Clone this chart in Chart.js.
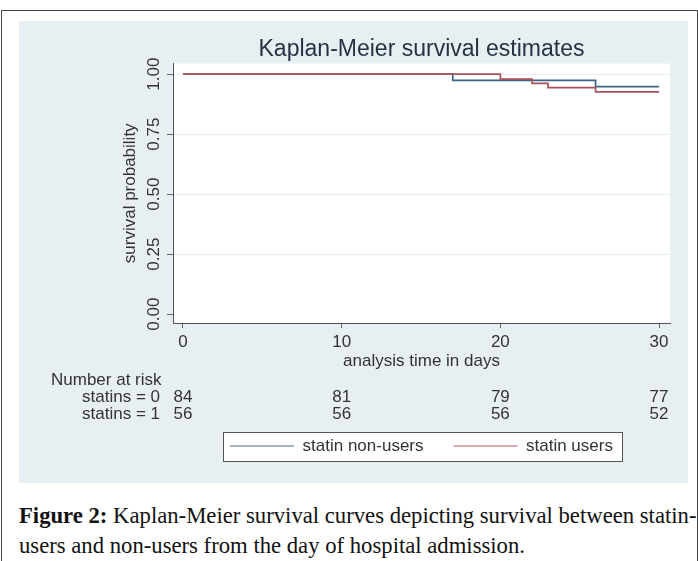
<!DOCTYPE html>
<html>
<head>
<meta charset="utf-8">
<script src="https://cdn.jsdelivr.net/npm/chart.js@4.4.1/dist/chart.umd.min.js"></script>
<style>
  html, body { margin: 0; padding: 0; background: #fff; width: 698px; height: 561px; overflow: hidden; }
  #frame { position: absolute; left: 1px; top: 10px; width: 695px; height: 600px; border: 1px solid #444; }
  #panel { position: absolute; left: 19px; top: 21px; width: 669px; height: 462px; background: #e8eff3; }
  #panel canvas { position: absolute; left: 0; top: 0; }
  #caption { position: absolute; left: 19px; top: 501px; width: 679px; font-family: 'Liberation Serif', serif; font-size: 22.7px; line-height: 30px; color: #111; white-space: nowrap; overflow: hidden; }
</style>
</head>
<body>
<div id="frame"></div>
<div id="panel"><canvas id="km" width="669" height="462"></canvas></div>
<div id="caption"><b>Figure 2:</b> Kaplan-Meier survival curves depicting survival between statin-<br>users and non-users from the day of hospital admission.</div>
<script>
// survival curves
var nonUserTimes = [0, 17, 26, 30]
var nonUserSurv = [1, 0.974, 0.948, 0.948]
var userTimes = [0, 20, 22, 23, 26, 30]
var userSurv = [1, 0.979, 0.962, 0.944, 0.926, 0.926]

var xTicks = [0, 10, 20, 30]
var yTicks = [0, 0.25, 0.5, 0.75, 1]

// number at risk table
var riskTimes = [0, 10, 20, 30]
var riskNonUsers = [84, 81, 79, 77]
var riskUsers = [56, 56, 56, 52]

var seriesLabels = ['statin non-users', 'statin users']

var FONT = "'Liberation Sans', Arial, sans-serif"
var TEXT = '#333'

function toPoints (times, values) {
  return times.map(function (t, i) { return { x: t, y: values[i] } })
}

var panelPlugin = {
  id: 'panel',
  beforeDraw: function (chart) {
    var ctx = chart.ctx
    var a = chart.chartArea
    ctx.save()
    ctx.fillStyle = '#fff'
    ctx.fillRect(a.left, a.top, a.right - a.left, a.bottom - a.top)

    // legend frame
    var hb = chart.legend.legendHitBoxes
    if (hb && hb.length) {
      var last = hb[hb.length - 1]
      var cy = hb[0].top + hb[0].height / 2
      var lx = Math.round(hb[0].left - 7) + 0.5
      var rx = Math.round(last.left + last.width + 9) + 0.5
      var ty = Math.round(cy - 14.5) + 0.5
      ctx.fillRect(lx, ty, rx - lx, 29)
      ctx.strokeStyle = '#555'
      ctx.lineWidth = 1
      ctx.strokeRect(lx, ty, rx - lx, 29)
    }
    ctx.restore()
  },
  afterDraw: function (chart) {
    var ctx = chart.ctx
    var xs = chart.scales.x
    var top = xs.top
    ctx.save()
    ctx.font = '17px ' + FONT
    ctx.fillStyle = TEXT
    ctx.textBaseline = 'middle'
    ctx.textAlign = 'left'
    ctx.fillText('Number at risk', 32, top + 57)
    ctx.textAlign = 'right'
    ctx.fillText('statins = 0', 141, top + 74)
    ctx.fillText('statins = 1', 141, top + 91)
    ctx.textAlign = 'center'
    riskTimes.forEach(function (t, i) {
      var px = xs.getPixelForValue(t)
      ctx.fillText(String(riskNonUsers[i]), px, top + 74)
      ctx.fillText(String(riskUsers[i]), px, top + 91)
    })
    ctx.restore()
  }
}

var chart = new Chart(document.getElementById('km'), {
  type: 'line',
  data: {
    datasets: [
      {
        label: seriesLabels[0],
        data: toPoints(nonUserTimes, nonUserSurv),
        borderColor: '#3d6586',
        borderWidth: 1.7,
        stepped: true,
        pointRadius: 0,
        fill: false,
        order: 1
      },
      {
        // drawn on top, as in the original
        label: seriesLabels[1],
        data: toPoints(userTimes, userSurv),
        borderColor: '#a9525a',
        borderWidth: 1.7,
        stepped: true,
        pointRadius: 0,
        fill: false,
        order: 0
      }
    ]
  },
  options: {
    responsive: false,
    animation: false,
    devicePixelRatio: 1,
    layout: { padding: { left: 90, top: 0, right: 18, bottom: 18.5 } },
    plugins: {
      title: {
        display: true,
        text: 'Kaplan-Meier survival estimates',
        fullSize: false,
        color: '#253345',
        font: { family: FONT, size: 23, weight: 'normal' },
        padding: { top: 15, bottom: 0 }
      },
      legend: {
        position: 'bottom',
        fullSize: false,
        labels: {
          usePointStyle: true,
          pointStyle: 'line',
          pointStyleWidth: 64,
          padding: 30,
          color: TEXT,
          font: { family: FONT, size: 17 },
          sort: function (a, b) { return a.datasetIndex - b.datasetIndex },
          generateLabels: function (chart) {
            var light = ['#7c9cba', '#d38f96']
            return Chart.defaults.plugins.legend.labels.generateLabels(chart).map(function (item) {
              item.strokeStyle = light[item.datasetIndex]
              item.lineWidth = 1.3
              item.pointStyle = 'line'
              return item
            })
          }
        }
      },
      tooltip: { enabled: false }
    },
    scales: {
      x: {
        type: 'linear',
        min: -0.63,
        max: 30.69,
        afterBuildTicks: function (s) { s.ticks = xTicks.map(function (v) { return { value: v } }) },
        afterFit: function (s) { s.height = 84.5 },
        ticks: { color: TEXT, font: { family: FONT, size: 17 }, padding: 3.8, maxRotation: 0 },
        grid: { drawOnChartArea: false, tickLength: 5, tickColor: '#666' },
        border: { color: '#555', width: 1 },
        title: {
          display: true,
          text: 'analysis time in days',
          color: TEXT,
          font: { family: FONT, size: 17 },
          padding: { top: 0, bottom: 36.3 }
        }
      },
      y: {
        min: -0.037,
        max: 1.044,
        afterBuildTicks: function (s) { s.ticks = yTicks.map(function (v) { return { value: v } }) },
        afterFit: function (s) { s.width = 64 },
        ticks: {
          color: TEXT,
          font: { family: FONT, size: 17 },
          minRotation: 90,
          maxRotation: 90,
          crossAlign: 'center',
          padding: -3.5,
          callback: function (v) { return Number(v).toFixed(2) }
        },
        grid: {
          tickLength: 6,
          tickColor: '#666',
          color: function (c) { return c.tick && c.tick.value === 0 ? 'rgba(0,0,0,0)' : '#e6ecef' }
        },
        border: { color: '#555', width: 1 },
        title: {
          display: true,
          text: 'survival probability',
          color: TEXT,
          font: { family: FONT, size: 17 },
          padding: { top: 10.8, bottom: 0 }
        }
      }
    }
  },
  plugins: [panelPlugin]
})
</script>
</body>
</html>
